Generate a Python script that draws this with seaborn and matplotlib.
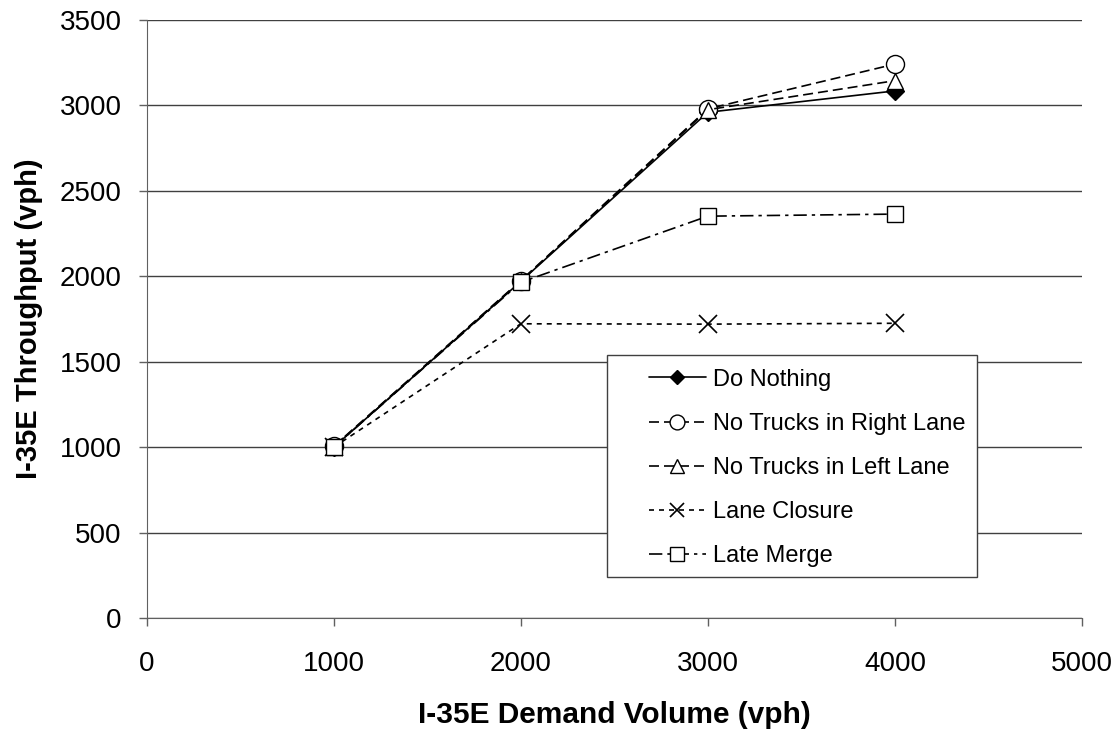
import pandas as pd
import matplotlib
matplotlib.use("Agg")
import matplotlib.pyplot as plt
from matplotlib.patches import Rectangle
import seaborn as sns

demand = [1000, 2000, 3000, 4000]
do_nothing = [1000, 1970, 2960, 3085]
no_trucks_right = [1005, 1975, 2980, 3242]
no_trucks_left = [1002, 1972, 2975, 3145]
lane_closure = [1000, 1722, 1720, 1725]
late_merge = [1000, 1965, 2352, 2364]

series = {
    "Do Nothing": do_nothing,
    "No Trucks in Right Lane": no_trucks_right,
    "No Trucks in Left Lane": no_trucks_left,
    "Lane Closure": lane_closure,
    "Late Merge": late_merge,
}

styles = {
    "Do Nothing": dict(marker="D", ls="-", mfc="black", ms=9),
    "No Trucks in Right Lane": dict(marker="o", ls=(0, (6, 3)), mfc="white", ms=13),
    "No Trucks in Left Lane": dict(marker="^", ls=(0, (6, 3)), mfc="white", ms=12),
    "Lane Closure": dict(marker="x", ls=(0, (3, 3)), mfc="none", ms=13, mew=1.2),
    "Late Merge": dict(marker="s", ls=(0, (8, 3, 2, 3)), mfc="white", ms=12),
}

sns.set_style("white")
plt.rcParams["font.family"] = ["Liberation Sans", "DejaVu Sans"]
plt.rcParams["text.color"] = "black"
plt.rcParams["axes.labelcolor"] = "black"
plt.rcParams["xtick.color"] = "black"
plt.rcParams["ytick.color"] = "black"

fig = plt.figure(figsize=(11.2, 7.31), dpi=100)
ax = fig.add_axes([0.131, 0.1546, 0.835, 0.818])

for name, vals in series.items():
    df = pd.DataFrame({"demand": demand, "throughput": vals})
    st = styles[name]
    sns.lineplot(data=df, x="demand", y="throughput", ax=ax, color="black", lw=1.2,
                 marker=st["marker"], linestyle=st["ls"], markersize=st["ms"],
                 markerfacecolor=st["mfc"], markeredgecolor="black",
                 markeredgewidth=st.get("mew", 1.0), label=name)

ax.set_xlim(0, 5000)
ax.set_ylim(0, 3500)
ax.set_xticks(range(0, 5001, 1000))
ax.set_yticks(range(0, 3501, 500))
ax.yaxis.grid(True, color="#404040", lw=1.0)
ax.set_axisbelow(True)
for s in ["top", "right"]:
    ax.spines[s].set_visible(False)
for s in ["left", "bottom"]:
    ax.spines[s].set_color("#606060")
ax.tick_params(axis="both", labelsize=20, direction="out", length=6, width=1,
               bottom=True, left=True)
ax.tick_params(axis="both", which="both", color="#606060")
ax.tick_params(axis="x", pad=18)
ax.tick_params(axis="y", pad=12)
ax.set_xlabel("I-35E Demand Volume (vph)", fontsize=21.5, fontweight="bold", labelpad=17)
ax.set_ylabel("I-35E Throughput (vph)", fontsize=21, fontweight="bold", labelpad=12)

# legend frame drawn separately to match the wide left padding
ax.add_patch(Rectangle((0.492, 0.0686), 0.396, 0.372, transform=ax.transAxes,
                       facecolor="white", edgecolor="#404040", lw=1.0, zorder=5))
leg = ax.legend(loc="upper left", bbox_to_anchor=(0.537, 0.417), frameon=False,
                fontsize=17, handlelength=2.4, labelspacing=0.94, borderpad=0,
                borderaxespad=0, handletextpad=0.3, markerscale=0.82)
leg.set_zorder(6)

fig.savefig("out.png", dpi=100)
